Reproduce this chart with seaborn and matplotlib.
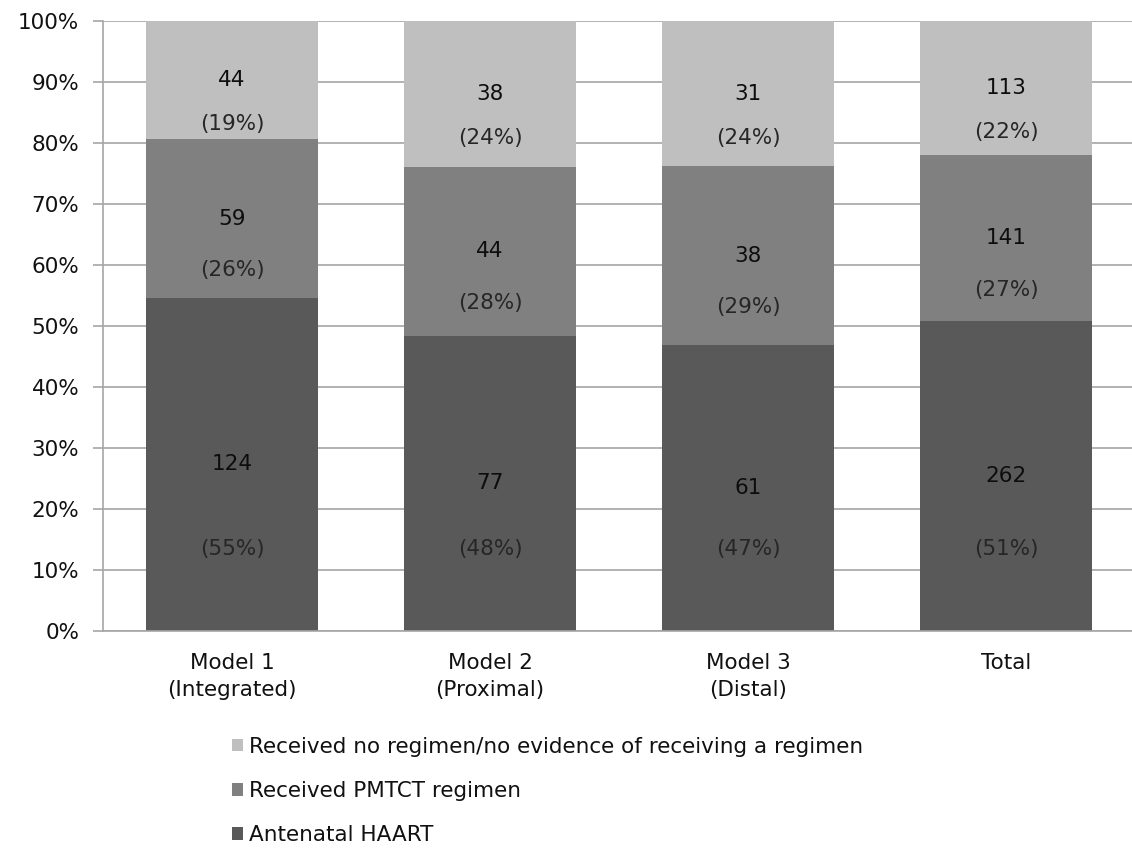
import numpy as np
import pandas as pd
import matplotlib
matplotlib.use("Agg")
import matplotlib.pyplot as plt
from matplotlib.patches import Patch
import seaborn as sns

# Category labels and counts per outcome
categories = ["Model 1\n(Integrated)", "Model 2\n(Proximal)", "Model 3\n(Distal)", "Total"]
haart = [124, 77, 61, 262]
pmtct = [59, 44, 38, 141]
no_regimen = [44, 38, 31, 113]

series_names = ["Antenatal HAART", "Received PMTCT regimen",
                "Received no regimen/no evidence of receiving a regimen"]
series_colors = ["#595959", "#808080", "#BFBFBF"]
y_ticks = [0, 10, 20, 30, 40, 50, 60, 70, 80, 90, 100]

sns.set_theme(style="white")
plt.rcParams["font.family"] = ["DejaVu Sans"]
FS = 15.5

counts = np.array([haart, pmtct, no_regimen], dtype=float)
totals = counts.sum(axis=0)
pcts = counts / totals * 100
cum = np.cumsum(pcts, axis=0)

fig = plt.figure(figsize=(11.32, 8.48), dpi=100)
ax = fig.add_axes([0.0910, 0.2559, 0.9117, 0.7193])

# Stacked bars drawn as overlapping cumulative totals (tallest first)
for i in [2, 1, 0]:
    df = pd.DataFrame({"cat": categories, "cum": cum[i]})
    sns.barplot(data=df, x="cat", y="cum", color=series_colors[i],
                width=0.67, saturation=1, ax=ax, zorder=2,
                edgecolor="none", linewidth=0)

# Segment labels: count at segment centre, percentage below it
for i in range(3):
    for j in range(len(categories)):
        lo = cum[i][j] - pcts[i][j]
        mid = (lo + cum[i][j]) / 2
        if i == 0:
            pct_y = 13.5
        elif i == 1:
            pct_y = mid - 8.5
        else:
            pct_y = mid - 7.2
        ax.text(j, mid, f"{int(counts[i][j])}", ha="center", va="center",
                fontsize=FS, color="#0d0d0d", zorder=3)
        ax.text(j, pct_y, f"({pcts[i][j]:.0f}%)", ha="center",
                va="center", fontsize=FS, color="#262626", zorder=3)

ax.set_xlim(-0.5, 3.5)
ax.set_ylim(0, 100)
ax.set_yticks(y_ticks)
ax.set_yticklabels([f"{t}%" for t in y_ticks])
ax.yaxis.grid(True, color="#A6A6A6", linewidth=1.2, zorder=0)
ax.set_axisbelow(True)

ax.set_xticks(range(len(categories)))
ax.set_xticklabels(categories, linespacing=1.4)
ax.set_xticks([-0.5, 0.5, 1.5, 2.5, 3.5], minor=True)
ax.tick_params(axis="x", which="major", length=0, pad=16, labelsize=FS, colors="#111111")
ax.tick_params(axis="x", which="minor", length=7, width=1.2, color="#A6A6A6", direction="out")
ax.tick_params(axis="y", length=7, width=1.2, color="#A6A6A6", direction="out",
               pad=10, labelsize=FS, labelcolor="#111111", left=True)
ax.set_xlabel("")
ax.set_ylabel("")

for side in ["top", "right"]:
    ax.spines[side].set_visible(False)
for side in ["left", "bottom"]:
    ax.spines[side].set_color("#A6A6A6")
    ax.spines[side].set_linewidth(1.2)

handles = [Patch(facecolor=series_colors[i], edgecolor="none") for i in [2, 1, 0]]
labels = [series_names[i] for i in [2, 1, 0]]
fig.legend(handles, labels, loc="upper left", bbox_to_anchor=(0.205, 0.131),
           frameon=False, fontsize=FS, handlelength=0.5, handleheight=0.5,
           handletextpad=0.3, labelspacing=1.12, labelcolor="#111111",
           borderpad=0, borderaxespad=0)

fig.savefig("out.png", dpi=100)
